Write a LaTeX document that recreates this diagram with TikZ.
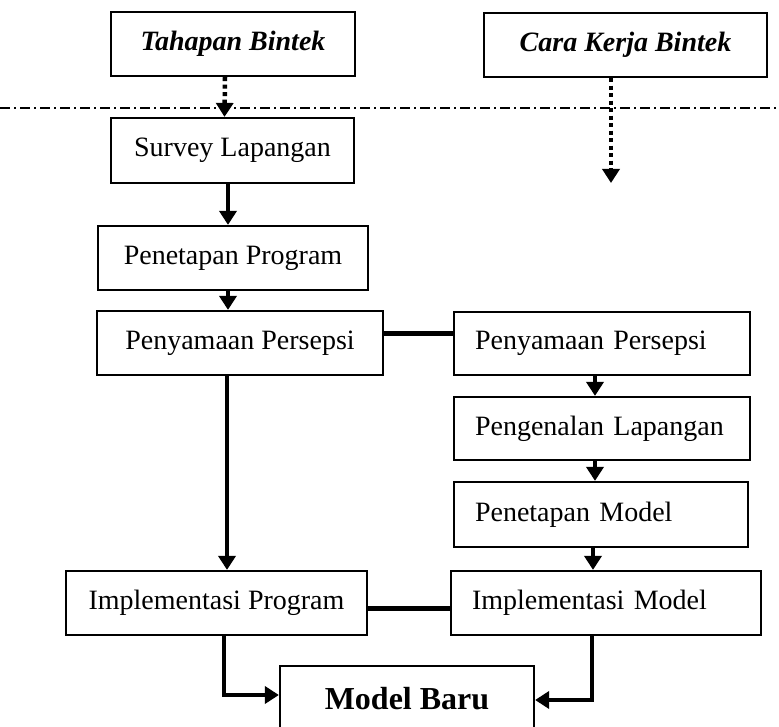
\documentclass[tikz,border=0pt]{standalone}
\usepackage{fontspec}
\setmainfont{Liberation Serif}
\usetikzlibrary{arrows.meta, calc}

\tikzset{
	box/.style={draw, line width=2.2pt, inner sep=0pt, font=\fontsize{28}{30}\selectfont},
	rbox/.style={box, align=left, inner xsep=21pt},
	head/.style={box, font=\fontsize{28}{30}\selectfont\bfseries\itshape},
	flow/.style={line width=4.5pt, -{Triangle[length=14pt, width=17pt]}},
	dotflow/.style={line width=4.5pt, dash pattern=on 4pt off 3.5pt, -{Triangle[length=14pt, width=17pt]}},
	link/.style={line width=5pt},
}

\begin{document}
\begin{tikzpicture}[x=1pt, y=-1pt, line join=miter]
	\useasboundingbox (0,0) rectangle (779,727);
	\clip (0,0) rectangle (779,727);

	\node[head, minimum width=244pt, minimum height=64pt] (tahap) at (233,44) {Tahapan Bintek};
	\node[head, minimum width=283pt, minimum height=64pt] (cara) at (625.5,45) {Cara Kerja Bintek};

	\node[box, minimum width=243pt, minimum height=65pt] (survey) at (232.5,150.5) {Survey Lapangan};
	\node[box, minimum width=270pt, minimum height=64pt] (prog) at (233,258) {Penetapan Program};
	\node[box, minimum width=286pt, minimum height=64pt] (samaL) at (240,343) {Penyamaan Persepsi};
	\node[box, minimum width=301pt, minimum height=64pt] (implP) at (216.5,603) {Implementasi Program};

	\node[rbox, text width=254pt, minimum height=63pt] (samaR) at (602,343.5) {Penyamaan Persepsi};
	\node[rbox, text width=254pt, minimum height=63pt] (kenal) at (602,428.5) {Pengenalan Lapangan};
	\node[rbox, text width=252pt, minimum height=65pt] (model) at (601,514.5) {Penetapan Model};
	\node[rbox, text width=268pt, minimum height=64pt] (implM) at (606,603) {Implementasi Model};

	\node[box, font=\fontsize{32}{34}\selectfont\bfseries, minimum width=254pt, minimum height=66pt] (baru) at (407,699) {Model Baru};

	\coordinate (dl) at (0,108);
	\coordinate (dr) at (779,108);
	\coordinate (caraend) at (611,183);

	\draw[dotflow] ([xshift=-8pt]tahap.south) -- ([xshift=-8pt]survey.north);
	\draw[dotflow] ([xshift=-14.5pt]cara.south) -- (caraend);
	\draw[line width=1.2pt, dash pattern=on 10pt off 4pt on 2pt off 4pt] (dl) -- (dr);

	\draw[flow] ([xshift=-4.5pt]survey.south) -- ([xshift=-4.5pt]survey.south |- prog.north);
	\draw[flow] ([xshift=-5pt]prog.south) -- ([xshift=-5pt]prog.south |- samaL.north);
	\draw[flow] ([xshift=-13pt]samaL.south) -- ([xshift=-13pt]samaL.south |- implP.north);

	\draw[flow] ([xshift=-7pt]samaR.south) -- ([xshift=-7pt]samaR.south |- kenal.north);
	\draw[flow] ([xshift=-7pt]kenal.south) -- ([xshift=-7pt]kenal.south |- model.north);
	\draw[flow] ([xshift=-8pt]model.south) -- ([xshift=-8pt]model.south |- implM.north);

	\draw[link] ([yshift=10pt]samaL.east) -- ([yshift=10pt]samaL.east -| samaR.west);
	\draw[link] ([yshift=-5pt]implP.east) -- ([yshift=-5pt]implP.east -| implM.west);

	\draw[flow] ([xshift=7.5pt]implP.south) |- ([yshift=4pt]baru.west);
	\draw[flow] ([xshift=-14pt]implM.south) |- ([yshift=-1pt]baru.east);

\end{tikzpicture}
\end{document}
